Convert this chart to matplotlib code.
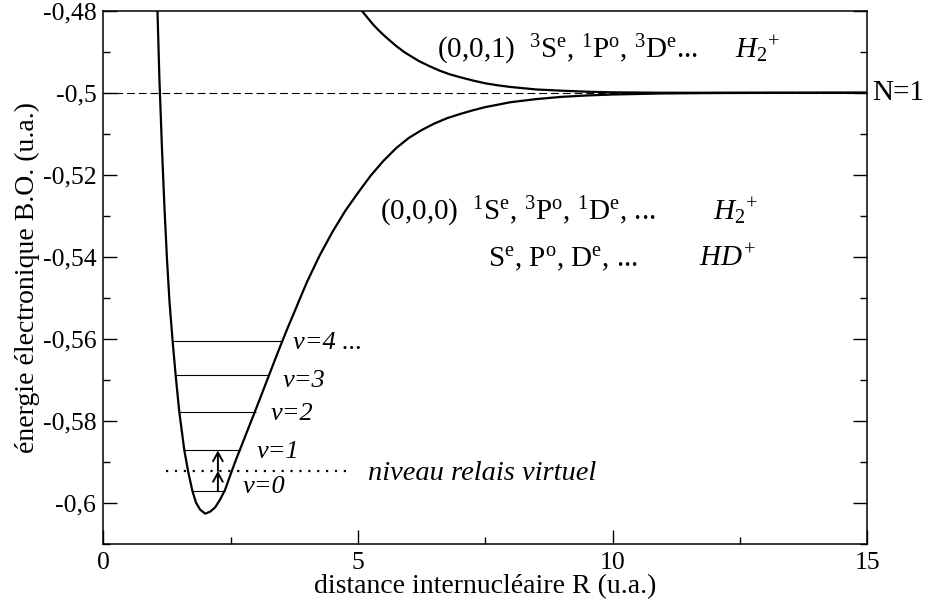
import matplotlib
matplotlib.use("Agg")
import matplotlib.pyplot as plt
from matplotlib.ticker import FixedLocator, MultipleLocator
import matplotlib.transforms as mtransforms

plt.rcParams['font.family'] = ['Liberation Serif', 'DejaVu Serif']
plt.rcParams['mathtext.fontset'] = 'custom'
plt.rcParams['mathtext.rm'] = 'Liberation Serif'
plt.rcParams['mathtext.it'] = 'Liberation Serif:italic'
plt.rcParams['mathtext.bf'] = 'Liberation Serif:bold'

# ---- data ----
R_ground = [1.00, 1.05, 1.10, 1.15, 1.20, 1.25, 1.30, 1.36, 1.42, 1.49, 1.59, 1.67,
            1.75, 1.82, 1.90, 2.00, 2.10, 2.20, 2.30, 2.39, 2.50, 2.60, 2.68, 2.80,
            2.99, 3.10, 3.24, 3.37, 3.50, 3.62, 3.75, 3.87, 4.00, 4.25, 4.50, 4.75,
            5.00, 5.25, 5.50, 5.75, 6.00, 6.25, 6.50, 6.75, 7.00, 7.25, 7.50, 7.75,
            8.00, 8.50, 9.00, 9.50, 10.0, 11.0, 12.0, 13.0, 15.0]
E_ground = [-0.4518, -0.4740, -0.4960, -0.5130, -0.5278, -0.5405, -0.5510, -0.5604,
            -0.5688, -0.5776, -0.5871, -0.5926, -0.5971, -0.5999, -0.6016, -0.6026,
            -0.6021, -0.6010, -0.5990, -0.5968, -0.5930, -0.5896, -0.5871, -0.5833,
            -0.5773, -0.5738, -0.5693, -0.5651, -0.5610, -0.5573, -0.5535, -0.5499,
            -0.5461, -0.5396, -0.5339, -0.5288, -0.5244, -0.5202, -0.5166, -0.5135,
            -0.5110, -0.5091, -0.5075, -0.5062, -0.5052, -0.5043, -0.5035, -0.5029,
            -0.5023, -0.50155, -0.5010, -0.50066, -0.50043, -0.50017, -0.50007,
            -0.50003, -0.50000]

R_excited = [5.00, 5.10, 5.20, 5.30, 5.40, 5.50, 5.60, 5.75, 5.90, 6.00, 6.20, 6.40,
             6.60, 6.80, 7.00, 7.25, 7.50, 7.75, 8.00, 8.50, 9.00, 9.50, 10.0, 11.0,
             12.0, 15.0]
E_excited = [-0.4788, -0.4804, -0.4819, -0.4834, -0.4847, -0.4859, -0.4870, -0.4886,
             -0.4900, -0.4908, -0.4923, -0.4935, -0.4946, -0.4955, -0.4962, -0.4970,
             -0.4977, -0.4982, -0.4986, -0.4992, -0.4995, -0.49975, -0.4999, -0.5000,
             -0.5000, -0.5000]

v_labels = ["v=0", "v=1", "v=2", "v=3", "v=4 ..."]
v_energy = [-0.5971, -0.5872, -0.5777, -0.5689, -0.5604]
v_left = [1.75, 1.59, 1.49, 1.42, 1.36]
v_right = [2.39, 2.68, 2.99, 3.24, 3.50]

relay_energy = -0.5922
relay_R = [1.24, 4.84]
arrow_R = 2.25

threshold_energy = -0.5
threshold_label = "N=1"

x_ticks = [0, 5, 10, 15]
x_ticklabels = ["0", "5", "10", "15"]
y_ticks = [-0.60, -0.58, -0.56, -0.54, -0.52, -0.50, -0.48]
y_ticklabels = ["-0,6", "-0,58", "-0,56", "-0,54", "-0,52", "-0,5", "-0,48"]

# ---- figure ----
fig = plt.figure(figsize=(9.34, 6.04), dpi=100)
ax = fig.add_axes([0.1106, 0.0993, 0.8180, 0.8830])
ax.set_xlim(0, 15)
ax.set_ylim(-0.61, -0.48)

ax.plot([0, 15], [threshold_energy, threshold_energy], color='black', lw=0.8,
        dashes=(7, 3.6))
ax.plot(R_ground, E_ground, color='black', lw=1.6, solid_joinstyle='round')
ax.plot(R_excited, E_excited, color='black', lw=1.6, solid_joinstyle='round')
ax.hlines(v_energy, v_left, v_right, color='black', lw=0.8)
ax.plot(relay_R, [relay_energy, relay_energy], color='black', lw=1.6,
        linestyle=(0, (1, 3)))

# double arrow v=0 -> virtual level -> v=1
for y0, y1 in [(v_energy[0], relay_energy), (relay_energy, v_energy[1])]:
    ax.annotate("", xy=(arrow_R, y1), xytext=(arrow_R, y0),
                arrowprops=dict(arrowstyle='->,head_length=0.45,head_width=0.25',
                                lw=1.4, color='black', shrinkA=0, shrinkB=0,
                                mutation_scale=14))

# v labels
v_label_pos = [(2.73, -0.59765), (3.01, -0.58896), (3.28, -0.57981),
               (3.53, -0.57167), (3.72, -0.56235)]
for lab, (x, y) in zip(v_labels, v_label_pos):
    ax.text(x, y, lab, fontsize=19, style='italic', va='baseline', ha='left')

ax.text(5.19, -0.5944, "niveau relais virtuel", fontsize=20.5, style='italic',
        va='baseline', ha='left')

# state annotations
ax.text(6.56, -0.4915,
        r"(0,0,1)  $^{3}$S$^{\mathrm{e}}$, $^{1}$P$^{\mathrm{o}}$, $^{3}$D$^{\mathrm{e}}$...",
        fontsize=21, va='baseline', ha='left')
ax.text(12.40, -0.4915, r"$H_{2}{}^{+}$", fontsize=21, va='baseline', ha='left')
ax.text(5.43, -0.5310,
        r"(0,0,0)  $^{1}$S$^{\mathrm{e}}$, $^{3}$P$^{\mathrm{o}}$, $^{1}$D$^{\mathrm{e}}$, ...",
        fontsize=21, va='baseline', ha='left')
ax.text(11.97, -0.5310, r"$H_{2}{}^{+}$", fontsize=21, va='baseline', ha='left')
ax.text(7.56, -0.5424, r"S$^{\mathrm{e}}$, P$^{\mathrm{o}}$, D$^{\mathrm{e}}$, ...",
        fontsize=21, va='baseline', ha='left')
ax.text(11.70, -0.5424, r"$HD^{+}$", fontsize=21, va='baseline', ha='left')

trans = mtransforms.blended_transform_factory(ax.transAxes, ax.transData)
ax.text(1.007, threshold_energy, threshold_label, transform=trans, fontsize=21,
        va='center', ha='left')

# axes styling
for s in ax.spines.values():
    s.set_linewidth(1.1)
ax.xaxis.set_major_locator(FixedLocator(x_ticks))
ax.set_xticklabels(x_ticklabels)
ax.xaxis.set_minor_locator(MultipleLocator(2.5))
ax.yaxis.set_major_locator(FixedLocator(y_ticks))
ax.set_yticklabels(y_ticklabels)
ax.yaxis.set_minor_locator(MultipleLocator(0.01))
ax.tick_params(axis='both', which='both', direction='in', top=False, right=True,
               labelsize=18.5, width=1.0)
ax.tick_params(axis='both', which='major', length=10)
ax.tick_params(axis='both', which='minor', length=5)
ax.tick_params(axis='x', which='major', pad=6)
ax.tick_params(axis='y', which='major', pad=5)

ax.set_xlabel("distance internucléaire R (u.a.)", fontsize=20, labelpad=0)
ax.set_ylabel("énergie électronique B.O. (u.a.)", fontsize=20, labelpad=2)

fig.savefig("out.png", dpi=100)
